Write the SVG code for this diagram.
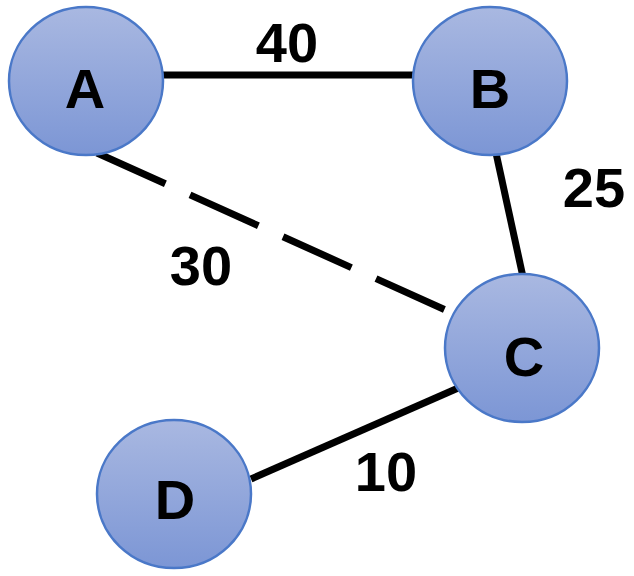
<svg xmlns="http://www.w3.org/2000/svg" width="634" height="576" viewBox="0 0 634 576">
<defs>
<linearGradient id="g" x1="0" y1="0" x2="0" y2="1">
<stop offset="0" stop-color="#a9b8e1"/>
<stop offset="1" stop-color="#7c96d5"/>
</linearGradient>
<style>
.node{fill:url(#g);stroke:#4a78c8;stroke-width:2.5}
.lbl{font-family:"Liberation Sans",Arial,sans-serif;font-weight:bold;font-size:56px;fill:#000;text-anchor:middle}
.edge{stroke:#000;stroke-width:7;fill:none}
</style>
</defs>
<rect width="634" height="576" fill="#fff"/>
<g id="connectors">
<line class="edge" x1="162" y1="75" x2="414" y2="75"/>
<line class="edge" x1="496" y1="153" x2="523" y2="277"/>
<line class="edge" x1="465" y1="385" x2="251" y2="479"/>
<line class="edge" x1="97" y1="153" x2="450" y2="312" stroke-dasharray="75 27"/>
<text class="lbl" x="287" y="62">40</text>
<text class="lbl" x="594" y="207">25</text>
<text class="lbl" x="201" y="285">30</text>
<text class="lbl" x="386" y="491">10</text>
</g>
<g id="A"><ellipse class="node" cx="86" cy="81" rx="77" ry="74"/><text class="lbl" x="85" y="108">A</text></g>
<g id="B"><ellipse class="node" cx="490" cy="81" rx="77" ry="74"/><text class="lbl" x="490" y="108">B</text></g>
<g id="C"><ellipse class="node" cx="522" cy="348" rx="77" ry="74"/><text class="lbl" x="524" y="376">C</text></g>
<g id="D"><ellipse class="node" cx="174" cy="494" rx="77" ry="74"/><text class="lbl" x="175" y="519">D</text></g>
</svg>
